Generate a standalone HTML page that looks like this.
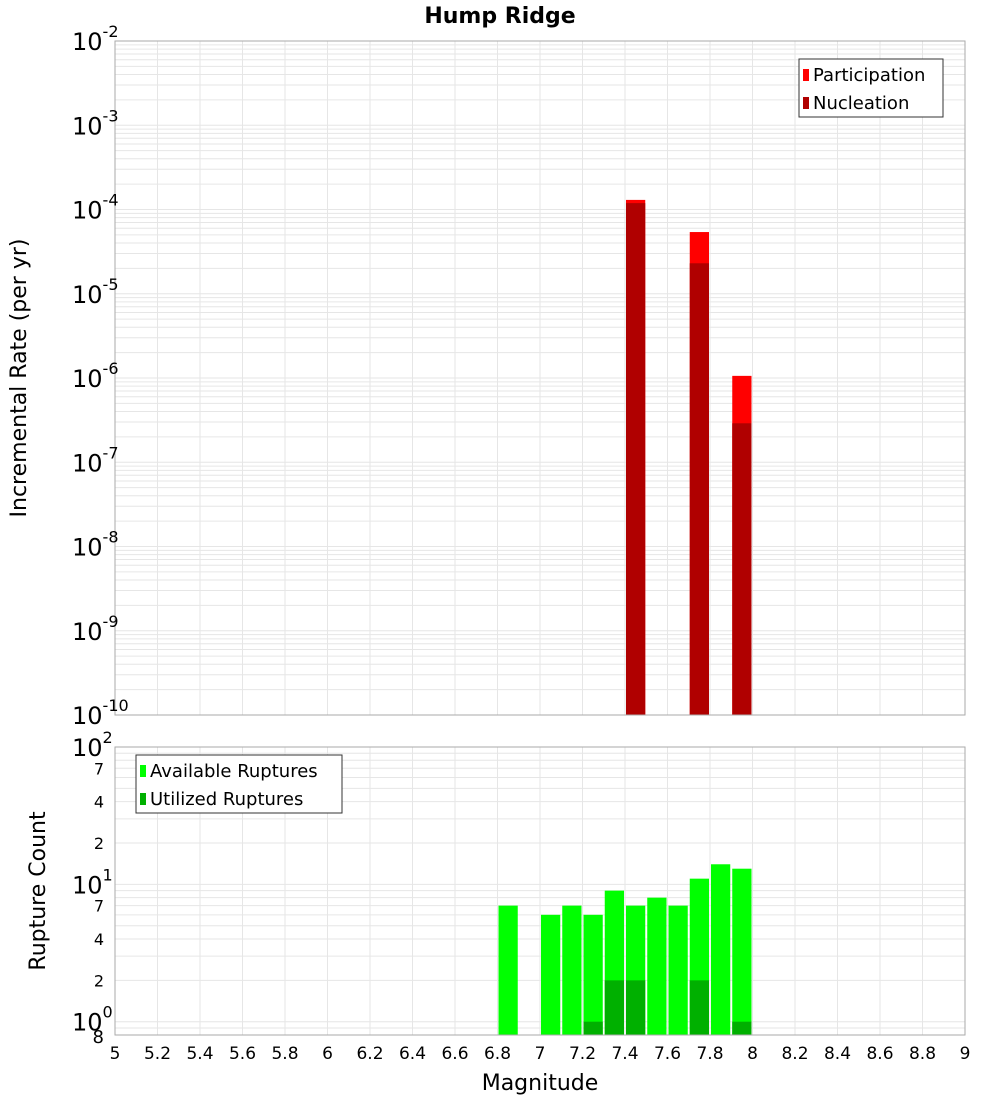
<!DOCTYPE html>
<html><head><meta charset="utf-8"><style>
body{margin:0;background:#fff;font-family:"Liberation Sans","DejaVu Sans",sans-serif}
svg text{font-family:"DejaVu Sans","Liberation Sans",sans-serif}
</style></head><body>
<svg id="c" width="1000" height="1100" xmlns="http://www.w3.org/2000/svg"></svg>
<script>
const mags=[7.45,7.75,7.95];
const participation=[1.3e-4,5.4e-5,1.06e-6];
const nucleation=[1.19e-4,2.3e-5,2.9e-7];
const cntMags=[6.85,7.05,7.15,7.25,7.35,7.45,7.55,7.65,7.75,7.85,7.95];
const available=[7,6,7,6,9,7,8,7,11,14,13];
const utilized=[0,0,0,1,2,2,0,0,2,0,1];
const xTicks=[5,5.2,5.4,5.6,5.8,6,6.2,6.4,6.6,6.8,7,7.2,7.4,7.6,7.8,8,8.2,8.4,8.6,8.8,9];
const topDecades=[-2,-3,-4,-5,-6,-7,-8,-9,-10];
const botMinor=[7,4,2];

const svg=document.getElementById('c');
const NS='http://www.w3.org/2000/svg';
function el(tag,attrs,parent){const e=document.createElementNS(NS,tag);for(const k in attrs)e.setAttribute(k,attrs[k]);(parent||svg).appendChild(e);return e;}
const X0=115,X1=965;
const x=m=>X0+(m-5)/4*(X1-X0);
const T0=41,T1=715;
const yT=v=>T0+(-2-Math.log10(v))/8*(T1-T0);
const B0=747,B1=1035,BMIN=0.8;
const yB=v=>B0+(2-Math.log10(v))/(2-Math.log10(BMIN))*(B1-B0);

// title
let t=el('text',{x:500,y:23,'text-anchor':'middle','font-size':22,'font-weight':'bold'});t.textContent='Hump Ridge';


// top grid
let g=el('g',{stroke:'#e6e6e6','stroke-width':1});

for(let d=-10;d<-2;d++)for(let k=1;k<10;k++){const yy=yT(k*Math.pow(10,d));el('line',{x1:X0,x2:X1,y1:yy,y2:yy},g);}
xTicks.forEach(m=>{el('line',{x1:x(m),x2:x(m),y1:T0,y2:T1},g);el('line',{x1:x(m),x2:x(m),y1:B0,y2:B1},g);});
// bottom grid
for(let d=-1;d<2;d++)for(let k=1;k<10;k++){const v=k*Math.pow(10,d);if(v<BMIN)continue;const yy=yB(v);el('line',{x1:X0,x2:X1,y1:yy,y2:yy},g);}

// top bars
const bw=x(5.1)-x(5)-2;
mags.forEach((m,i)=>{
 let r=el('rect',{x:x(m)-bw/2,y:yT(participation[i]),width:bw,height:T1-yT(participation[i]),fill:'#ff0000'});
 
 r=el('rect',{x:x(m)-bw/2,y:yT(nucleation[i]),width:bw,height:T1-yT(nucleation[i]),fill:'#b00000'});
 
});
// bottom bars
cntMags.forEach((m,i)=>{
 let r=el('rect',{x:x(m)-bw/2,y:yB(available[i]),width:bw,height:B1-yB(available[i]),fill:'#00ff00'});
 
 if(utilized[i]>0){r=el('rect',{x:x(m)-bw/2,y:yB(utilized[i]),width:bw,height:B1-yB(utilized[i]),fill:'#00b000'});
 }
});
// frames
el('rect',{x:X0,y:T0,width:X1-X0,height:T1-T0,fill:'none',stroke:'#aaa'});
el('rect',{x:X0,y:B0,width:X1-X0,height:B1-B0,fill:'none',stroke:'#aaa'});

// top y labels
topDecades.forEach(d=>{
 const yy=yT(Math.pow(10,d));
 const tx=el('text',{x:72,y:yy+9,'font-size':24});
 
 tx.textContent='10';
 const s=el('tspan',{dy:-13,'font-size':16},tx);s.textContent=String(d);
});
// bottom y labels
[[100,'2'],[10,'1'],[1,'0']].forEach(([v,e])=>{
 const yy=yB(v);
 const tx=el('text',{x:72,y:yy+9,'font-size':24});
 
 tx.textContent='10';
 const s=el('tspan',{dy:-13,'font-size':16},tx);s.textContent=e;
});
botMinor.forEach(k=>[1,10].forEach(d=>{const v=k*d;const tx=el('text',{x:104,y:yB(v)+6,'font-size':16,'text-anchor':'end'});tx.textContent=String(k);
 }));
let t8=el('text',{x:104,y:B1+8,'font-size':18,'text-anchor':'end'});t8.textContent='8';


// x ticks
xTicks.forEach(m=>{const tx=el('text',{x:x(m),y:1059,'font-size':17,'text-anchor':'middle'});tx.textContent=String(m);
 });
let xt=el('text',{x:540,y:1090,'font-size':22,'text-anchor':'middle'});xt.textContent='Magnitude';

let y1=el('text',{x:0,y:0,'font-size':22,'text-anchor':'middle',transform:'translate(26,378) rotate(-90)'});y1.textContent='Incremental Rate (per yr)';

let y2=el('text',{x:0,y:0,'font-size':22,'text-anchor':'middle',transform:'translate(45,891) rotate(-90)'});y2.textContent='Rupture Count';


// legends
function legend(x0,y0,w,items,name){
 const lg=el('g',{});
 el('rect',{x:x0,y:y0,width:w,height:58,fill:'#fff',stroke:'#333'},lg);
 items.forEach(([c,l],i)=>{
  el('rect',{x:x0+4,y:y0+10+i*28,width:6,height:12,fill:c},lg);
  const tx=el('text',{x:x0+14,y:y0+22+i*28,'font-size':18},lg);tx.textContent=l;
  
 });
}
legend(799,59,144,[['#ff0000','Participation'],['#b00000','Nucleation']],'top-legend');
legend(136,755,206,[['#00ff00','Available Ruptures'],['#00b000','Utilized Ruptures']],'bottom-legend');
</script>
</body></html>
